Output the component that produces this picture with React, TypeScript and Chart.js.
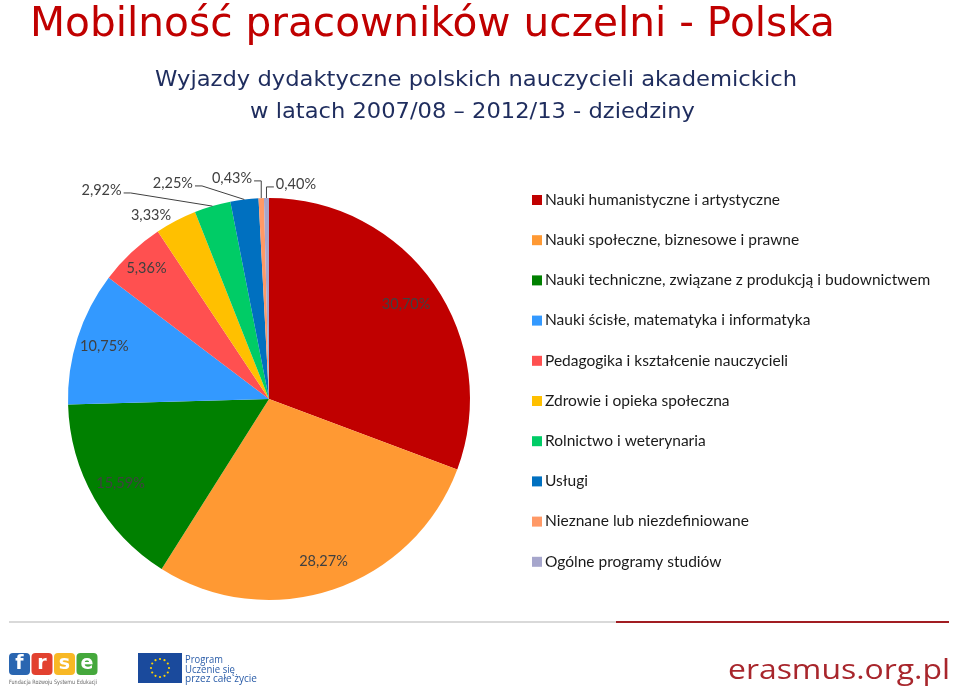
import React, { useEffect, useRef } from "react";
import { Chart, registerables } from "chart.js";

Chart.register(...registerables);

const categories = [
  "Nauki humanistyczne i artystyczne",
  "Nauki społeczne, biznesowe i prawne",
  "Nauki techniczne, związane z produkcją i budownictwem",
  "Nauki ścisłe, matematyka i informatyka",
  "Pedagogika i kształcenie nauczycieli",
  "Zdrowie i opieka społeczna",
  "Rolnictwo i weterynaria",
  "Usługi",
  "Nieznane lub niezdefiniowane",
  "Ogólne programy studiów",
];
const shares = [30.7, 28.27, 15.59, 10.75, 5.36, 3.33, 2.92, 2.25, 0.43, 0.4];
const shareLabels = ["30,70%", "28,27%", "15,59%", "10,75%", "5,36%", "3,33%", "2,92%", "2,25%", "0,43%", "0,40%"];
const sliceColors = ["#c00000", "#ff9933", "#008000", "#3399ff", "#ff5050", "#ffc000", "#00cc66", "#0070c0", "#ff9966", "#a6a6cc"];
const chartTitle = "Mobilność pracowników uczelni - Polska";
const chartSubtitle = ["Wyjazdy dydaktyczne polskich nauczycieli akademickich", "w latach 2007/08 – 2012/13 - dziedziny"];
const programLines = ["Program", "Uczenie się", "przez całe życie"];
const frseLetters = ["f", "r", "s", "e"];
const frseColors = ["#2a66b1", "#e2412f", "#f8b825", "#45a83c"];
const frseCaption = "Fundacja Rozwoju Systemu Edukacji";
const siteText = "erasmus.org.pl";

// label layout (style config, in units of the pie radius)
const labelPlacement: any[] = [
  { mode: "in", k: 0.83 },
  { mode: "in", k: 0.85 },
  { mode: "in", k: 0.85 },
  { mode: "in", k: 0.86 },
  { mode: "in", k: 0.89 },
  { mode: "out", dx: -0.587, dy: -0.915 },
  { mode: "line", dx: -0.833, dy: -1.04, line: "diag", side: "right" },
  { mode: "line", dx: -0.478, dy: -1.075, line: "diag", side: "right" },
  { mode: "line", dx: -0.184, dy: -1.1, line: "elbow", side: "right" },
  { mode: "line", dx: 0.134, dy: -1.07, line: "elbow", side: "left" },
];

function fitText(ctx: CanvasRenderingContext2D, text: string, x: number, y: number, width: number, font: string, color: string) {
  ctx.save();
  ctx.font = font;
  ctx.fillStyle = color;
  ctx.textAlign = "left";
  ctx.textBaseline = "alphabetic";
  const w = ctx.measureText(text).width;
  ctx.translate(x, y);
  ctx.scale(width / w, 1);
  ctx.fillText(text, 0, 0);
  ctx.restore();
}

const decorPlugin = {
  id: "decor",
  afterDraw(chart: any) {
    const ctx: CanvasRenderingContext2D = chart.ctx;
    // Title
    fitText(ctx, chartTitle, 30, 36, 805, "41px 'DejaVu Sans'", "#c00000");
    fitText(ctx, chartSubtitle[0], 155, 86, 642, "21px 'DejaVu Sans'", "#1f2d5e");
    fitText(ctx, chartSubtitle[1], 250, 118, 445, "21px 'DejaVu Sans'", "#1f2d5e");

    // bottom rules
    ctx.save();
    ctx.lineWidth = 2;
    ctx.strokeStyle = "#d9d9d9";
    ctx.beginPath();
    ctx.moveTo(9, 622);
    ctx.lineTo(616, 622);
    ctx.stroke();
    ctx.strokeStyle = "#a11d22";
    ctx.beginPath();
    ctx.moveTo(616, 622);
    ctx.lineTo(949, 622);
    ctx.stroke();
    ctx.restore();

    // frse logo
    ctx.save();
    frseLetters.forEach((l, i) => {
      const x0 = 9 + i * 22.5;
      ctx.fillStyle = frseColors[i];
      ctx.beginPath();
      (ctx as any).roundRect(x0, 653, 21, 22, 4);
      ctx.fill();
      ctx.fillStyle = "#ffffff";
      ctx.font = "bold 19px 'DejaVu Sans'";
      ctx.textAlign = "center";
      ctx.textBaseline = "middle";
      ctx.fillText(l, x0 + 10.5, 664);
    });
    ctx.restore();
    fitText(ctx, frseCaption, 9, 684, 88, "6px 'DejaVu Sans'", "#666666");

    // EU flag
    ctx.save();
    ctx.fillStyle = "#1a4a9c";
    ctx.fillRect(138, 653, 44, 30);
    ctx.fillStyle = "#ffd400";
    for (let i = 0; i < 12; i++) {
      const a = (i / 12) * Math.PI * 2;
      ctx.beginPath();
      ctx.arc(160 + Math.cos(a) * 9, 668 + Math.sin(a) * 9, 1.1, 0, Math.PI * 2);
      ctx.fill();
    }
    ctx.restore();
    fitText(ctx, programLines[0], 185, 663, 38, "11px 'Open Sans'", "#2a5ca8");
    fitText(ctx, programLines[1], 185, 672.5, 50, "11px 'Open Sans'", "#2a5ca8");
    fitText(ctx, programLines[2], 185, 682, 72, "11px 'Open Sans'", "#2a5ca8");

    fitText(ctx, siteText, 728, 679, 222, "27px 'Open Sans'", "#a8262c");
  },
};

const sliceLabelPlugin = {
  id: "sliceLabels",
  afterDatasetsDraw(chart: any) {
    const ctx: CanvasRenderingContext2D = chart.ctx;
    const meta = chart.getDatasetMeta(0);
    ctx.save();
    ctx.font = "14.5px Lato";
    ctx.fillStyle = "#404040";
    ctx.strokeStyle = "#404040";
    ctx.lineWidth = 1;
    ctx.textAlign = "center";
    ctx.textBaseline = "middle";
    meta.data.forEach((arc: any, i: number) => {
      const p = arc.getProps(["x", "y", "startAngle", "endAngle", "outerRadius"], true);
      const mid = (p.startAngle + p.endAngle) / 2;
      const R = p.outerRadius;
      const pl = labelPlacement[i];
      const text = shareLabels[i];
      let lx: number, ly: number;
      if (pl.mode === "in") {
        lx = p.x + Math.cos(mid) * R * pl.k;
        ly = p.y + Math.sin(mid) * R * pl.k;
      } else {
        lx = p.x + pl.dx * R;
        ly = p.y + pl.dy * R;
      }
      ctx.fillText(text, lx, ly);
      if (pl.mode === "line") {
        const w = ctx.measureText(text).width;
        const ex = p.x + Math.cos(mid) * R;
        const ey = p.y + Math.sin(mid) * R;
        const sx = pl.side === "right" ? lx + w / 2 + 2 : lx - w / 2 - 2;
        const sy = ly + 3;
        ctx.beginPath();
        ctx.moveTo(sx, sy);
        if (pl.line === "diag") {
          ctx.lineTo(sx + 7, sy);
        } else {
          ctx.lineTo(ex, sy);
        }
        ctx.lineTo(ex, ey);
        ctx.stroke();
      }
    });
    ctx.restore();
  },
};

const legendPlugin = {
  id: "sideLegend",
  afterDraw(chart: any) {
    const ctx: CanvasRenderingContext2D = chart.ctx;
    const labels: string[] = chart.data.labels;
    const cols: string[] = chart.data.datasets[0].backgroundColor;
    ctx.save();
    ctx.font = "15px Lato";
    const scale = 235 / ctx.measureText(labels[0]).width;
    labels.forEach((lab, i) => {
      const cy = 200 + i * 40.2;
      ctx.fillStyle = cols[i];
      ctx.fillRect(532, cy - 5, 10, 10);
      ctx.save();
      ctx.fillStyle = "#1a1a1a";
      ctx.textAlign = "left";
      ctx.textBaseline = "middle";
      ctx.translate(545, cy);
      ctx.scale(scale, 1);
      ctx.fillText(lab, 0, 0);
      ctx.restore();
    });
    ctx.restore();
  },
};

export default function App() {
  const ref = useRef<HTMLCanvasElement>(null);
  useEffect(() => {
    const chart = new Chart(ref.current as HTMLCanvasElement, {
      type: "pie",
      data: {
        labels: categories,
        datasets: [{ data: shares, backgroundColor: sliceColors, borderWidth: 0, hoverOffset: 0 }],
      },
      options: {
        responsive: false,
        animation: false,
        devicePixelRatio: 1,
        events: [],
        layout: { padding: { left: 68, right: 490, top: 198, bottom: 100 } },
        plugins: { legend: { display: false }, tooltip: { enabled: false }, title: { display: false } },
      } as any,
      plugins: [decorPlugin, sliceLabelPlugin, legendPlugin],
    });
    return () => chart.destroy();
  }, []);
  return (
    <div style={{ position: "absolute", left: 0, top: 0, width: 960, height: 700, background: "#ffffff" }}>
      <canvas ref={ref} width={960} height={700} style={{ display: "block" }} />
    </div>
  );
}
